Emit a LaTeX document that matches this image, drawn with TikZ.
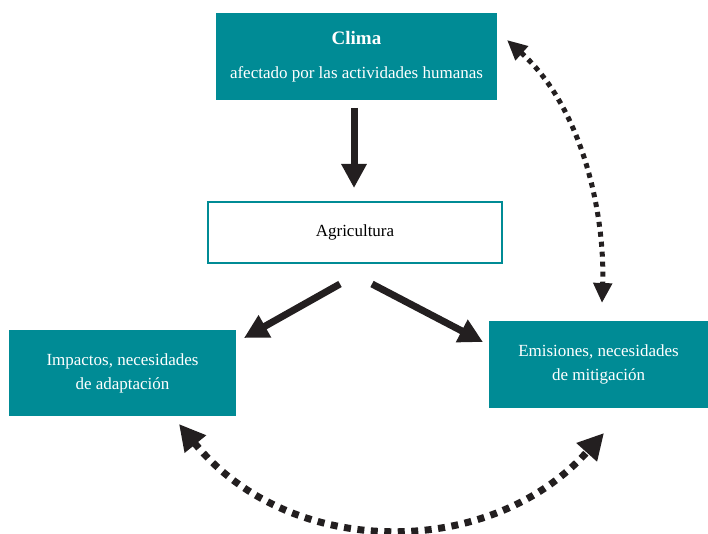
\documentclass[tikz,border=0pt]{standalone}
\usepackage{fontspec}
\setmainfont{Liberation Serif}
\usetikzlibrary{arrows.meta}
\definecolor{tealbox}{RGB}{0,139,149}
\definecolor{ink}{RGB}{35,31,32}
\begin{document}
\begin{tikzpicture}[x=1pt,y=-1pt,
  filledbox/.style={fill=tealbox,draw=none,text=white,align=center,font=\fontsize{17}{24}\selectfont},
  whitebox/.style={fill=white,draw=tealbox,line width=2pt,align=center,font=\fontsize{17}{20}\selectfont},
  solidarrow/.style={draw=ink,fill=ink,line width=7pt,-{Triangle[length=24pt,width=24pt]}},
  dotarrow/.style={draw=ink,line width=5pt,dash pattern=on 5pt off 5pt,{Triangle[length=20pt,width=18pt]}-{Triangle[length=20pt,width=18pt]}},
  bigdotarrow/.style={draw=ink,line width=7pt,dash pattern=on 7pt off 6.5pt,{Triangle[length=26pt,width=26pt]}-{Triangle[length=26pt,width=26pt]}}]
\useasboundingbox (0,0) rectangle (708,534);
\node[filledbox,minimum width=281pt,minimum height=87pt] (clima) at (356.5,56.5)
  {{\bfseries\fontsize{19}{22}\selectfont Clima}\\[10pt]afectado por las actividades humanas};
\node[whitebox,minimum width=294pt,minimum height=61pt] (agri) at (355,232.5) {Agricultura};
\node[filledbox,minimum width=227pt,minimum height=86pt] (imp) at (122.5,373) {Impactos, necesidades\\de adaptación};
\node[filledbox,minimum width=219pt,minimum height=87pt] (emi) at (598.5,364.5) {Emisiones, necesidades\\de mitigación};
\coordinate (a1) at (354,108);
\coordinate (a2) at (354,188);
\coordinate (l1) at (340,284);
\coordinate (l2) at (244,338);
\coordinate (r1) at (372,284);
\coordinate (r2) at (483,342);
\coordinate (c1) at (507,40);
\coordinate (e1) at (602,303);
\coordinate (i2) at (179,424);
\coordinate (e2) at (604,433);
\draw[solidarrow] (a1) -- (a2);
\draw[solidarrow] (l1) -- (l2);
\draw[solidarrow] (r1) -- (r2);
\draw[dotarrow] (c1) .. controls (585,110) and (605,220) .. (e1);
\draw[bigdotarrow] (i2) .. controls (290,560) and (490,560) .. (e2);
\end{tikzpicture}
\end{document}
